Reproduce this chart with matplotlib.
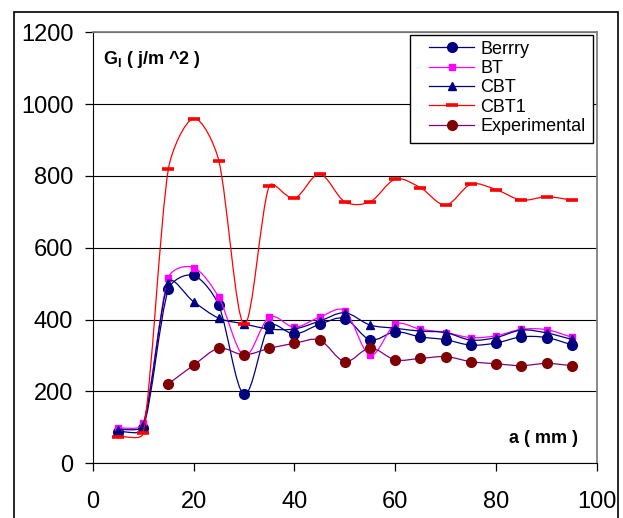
import matplotlib
matplotlib.use("Agg")
import matplotlib.pyplot as plt
import numpy as np
from matplotlib.path import Path
from matplotlib.patches import PathPatch, Rectangle
from matplotlib.lines import Line2D

plt.rcParams['font.family'] = ['Liberation Sans', 'DejaVu Sans']
plt.rcParams['mathtext.fontset'] = 'custom'
plt.rcParams['mathtext.rm'] = 'Liberation Sans'
plt.rcParams['mathtext.bf'] = 'Liberation Sans:bold'

# data
a_mm = [5, 10, 15, 20, 25, 30, 35, 40, 45, 50, 55, 60, 65, 70, 75, 80, 85, 90, 95]
berrry = [88, 97, 484, 523, 440, 192, 382, 360, 387, 403, 344, 366, 352, 344, 329, 335, 352, 350, 330]
bt = [97, 111, 517, 545, 462, 300, 407, 379, 407, 425, 301, 387, 373, 364, 350, 355, 373, 372, 351]
cbt = [93, 107, 503, 450, 404, 388, 374, 374, 396, 419, 385, 376, 368, 364, 343, 350, 371, 363, 345]
cbt1 = [74, 84, 819, 960, 843, 387, 772, 738, 805, 728, 728, 791, 767, 719, 777, 762, 733, 742, 733]
exp_a = [15, 20, 25, 30, 35, 40, 45, 50, 55, 60, 65, 70, 75, 80, 85, 90, 95]
experimental = [221, 273, 320, 302, 320, 334, 343, 283, 321, 288, 292, 297, 283, 277, 272, 278, 272]

W, H = 623, 518
fig = plt.figure(figsize=(W / 100, H / 100), dpi=100)
left, right, top, bottom = 92.7, 597.0, 32.3, 463.3
ax = fig.add_axes([left / W, 1 - bottom / H, (right - left) / W, (bottom - top) / H])
ax.set_xlim(0, 100)
ax.set_ylim(0, 1200)

sx = (right - left) / 100.0
sy = (bottom - top) / 1200.0


def smooth(xs, ys, k=1 / 3.0):
    # excel-like smoothed line: catmull-rom bezier in pixel space, handles capped by segment length
    P = np.column_stack([np.asarray(xs, float) * sx, np.asarray(ys, float) * sy])
    n = len(P)
    d = np.zeros_like(P)
    for i in range(n):
        if i == 0:
            d[i] = (P[1] - P[0]) / 3.0
        elif i == n - 1:
            d[i] = (P[-1] - P[-2]) / 3.0
        else:
            d[i] = (P[i + 1] - P[i - 1]) / 6.0
    verts = [P[0]]
    codes = [Path.MOVETO]
    for i in range(n - 1):
        L = np.hypot(*(P[i + 1] - P[i]))
        h0, h1 = d[i].copy(), d[i + 1].copy()
        for h in (h0, h1):
            m = np.hypot(*h)
            if m > L * k:
                h *= L * k / m
        verts += [P[i] + h0, P[i + 1] - h1, P[i + 1]]
        codes += [Path.CURVE4] * 3
    verts = np.array(verts) / [sx, sy]
    return Path(verts, codes)


series = [
    ("Berrry", a_mm, berrry, "#000080", "o", "#000080", 7, 1),
    ("BT", a_mm, bt, "#FF00FF", "s", "#FF00FF", 5, 1),
    ("CBT", a_mm, cbt, "#000080", "^", "#000080", 6, 1),
    ("CBT1", a_mm, cbt1, "#FF0000", "_", "#FF0000", 8.5, 2.6),
    ("Experimental", exp_a, experimental, "#800080", "o", "#800000", 7, 1),
]

handles = []
for z, (name, xs, ys, lc, mk, mc, ms, mew) in enumerate(series):
    ax.add_patch(PathPatch(smooth(xs, ys), fill=False, edgecolor=lc, lw=0.9, zorder=3 + 2 * z))
    ax.plot(xs, ys, ls='none', marker=mk, color=mc, ms=ms, mew=mew, zorder=4 + 2 * z)
    handles.append(Line2D([], [], color=lc, lw=0.9, marker=mk, mfc=mc, mec=mc, ms=ms, mew=mew, label=name))

ax.set_xticks([0, 20, 40, 60, 80, 100])
ax.set_yticks([0, 200, 400, 600, 800, 1000, 1200])
ax.grid(axis='y', color='black', lw=0.8)
ax.set_axisbelow(True)
ax.tick_params(axis='both', direction='out', length=6, width=0.9, labelsize=17)
ax.tick_params(axis='y', pad=8)
ax.tick_params(axis='x', pad=14)
ax.spines['top'].set_color('#808080')
ax.spines['right'].set_color('#808080')
ax.spines['top'].set_linewidth(1.3)
ax.spines['right'].set_linewidth(1.3)

ax.text(2.0, 1123, r"G$_\mathbf{I}$ ( j/m ^2 )", fontsize=13, fontweight='bold', va='center', ha='left')
ax.text(82.5, 70, "a ( mm )", fontsize=13, fontweight='bold', va='center', ha='left')

# legend, with its own box
fig.patches.append(Rectangle((410 / W, 1 - 143 / H), (593 - 410) / W, (143 - 35) / H,
                             transform=fig.transFigure, fill=False, ec='black', lw=1.0, zorder=20))
fig.patches.append(Rectangle((410 / W, 1 - 143 / H), (593 - 410) / W, (143 - 35) / H,
                             transform=fig.transFigure, fill=True, fc='white', ec='none', zorder=1))
leg = fig.legend(handles=handles, loc='upper left', bbox_to_anchor=(429 / W, 1 - 40.5 / H),
                 frameon=False, fontsize=13, handlelength=2.5, handletextpad=0.35,
                 labelspacing=0.13, borderpad=0, borderaxespad=0)

# outer chart border
fig.patches.append(Rectangle((14 / W, -0.05), (618 - 14) / W, 1.05 - 12 / H,
                             transform=fig.transFigure, fill=False, ec='black', lw=1.2))

plt.savefig("out.png", dpi=100)
